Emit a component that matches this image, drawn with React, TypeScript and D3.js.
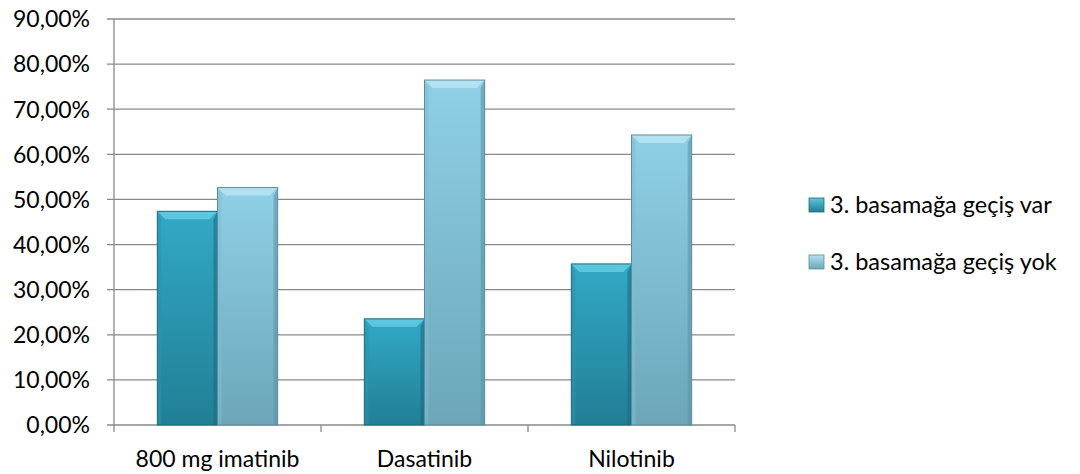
import React from "react";
import * as d3 from "d3";

const categories = ["800 mg imatinib", "Dasatinib", "Nilotinib"];
const seriesNames = ["3. basamağa geçiş var", "3. basamağa geçiş yok"];
const seriesVar = [47.37, 23.53, 35.71];
const seriesYok = [52.63, 76.47, 64.29];
const yTicks = [0, 10, 20, 30, 40, 50, 60, 70, 80, 90];

const W = 1080;
const H = 474;
const plot = { left: 114, right: 735, top: 19, bottom: 425 };

const palettes = [
  { top: "#32a9c6", bottom: "#217f95", bevel: "#5cc6de", edgeL: "#2a93ad", edgeR: "#1a6d80", stroke: "#1c6a7c" },
  { top: "#8fd0e6", bottom: "#6ca6b8", bevel: "#b2e2f2", edgeL: "#80bcd0", edgeR: "#5f95a6", stroke: "#5d8d9c" },
];

export default function App() {
  const x0 = d3.scaleBand<string>().domain(categories).range([plot.left, plot.right]).paddingInner(0).paddingOuter(0);
  const x1 = d3.scaleBand<number>().domain([0, 1]).range([0, x0.bandwidth()]).paddingOuter(0.72).paddingInner(0);
  const y = d3.scaleLinear().domain([0, 90]).range([plot.bottom, plot.top]);
  const fmt = (v: number) => d3.format(".2f")(v).replace(".", ",") + "%";
  const series = [seriesVar, seriesYok];
  const font = "Lato, 'Open Sans', sans-serif";
  const axisColor = "#898989";

  const bar = (s: number, i: number, v: number) => {
    const p = palettes[s];
    const bx = (x0(categories[i]) ?? 0) + (x1(s) ?? 0);
    const bw = x1.bandwidth();
    const by = y(v);
    const bh = plot.bottom - by;
    const b = 8;
    const e = 4;
    return (
      <g key={`${s}-${i}`}>
        <rect x={bx} y={by} width={bw} height={bh} fill={`url(#grad${s})`} />
        <polygon points={`${bx},${by} ${bx + e},${by + b} ${bx + e},${plot.bottom} ${bx},${plot.bottom}`} fill={p.edgeL} opacity={0.55} />
        <polygon points={`${bx + bw},${by} ${bx + bw - e},${by + b} ${bx + bw - e},${plot.bottom} ${bx + bw},${plot.bottom}`} fill={p.edgeR} opacity={0.6} />
        <polygon points={`${bx},${by} ${bx + bw},${by} ${bx + bw - b},${by + b} ${bx + b},${by + b}`} fill={p.bevel} />
        <rect x={bx} y={by} width={bw} height={bh} fill="none" stroke={p.stroke} strokeWidth={1} />
      </g>
    );
  };

  return (
    <svg width={W} height={H} style={{ position: "absolute", left: 0, top: 0, background: "#fff" }}>
      <defs>
        {palettes.map((p, s) => (
          <linearGradient key={s} id={`grad${s}`} x1="0" y1="0" x2="0" y2="1">
            <stop offset="0" stopColor={p.top} />
            <stop offset="1" stopColor={p.bottom} />
          </linearGradient>
        ))}
        {palettes.map((p, s) => (
          <linearGradient key={`l${s}`} id={`leg${s}`} x1="0" y1="0" x2="0" y2="1">
            <stop offset="0" stopColor={p.bevel} />
            <stop offset="1" stopColor={p.bottom} />
          </linearGradient>
        ))}
      </defs>

      {/* gridlines and y axis labels */}
      {yTicks.map((t) => (
        <g key={t}>
          <line x1={plot.left - 7} x2={plot.right} y1={y(t)} y2={y(t)} stroke={axisColor} strokeWidth={1.3} />
          <text x={90} y={y(t)} dy="0.36em" textAnchor="end" fontFamily={font} fontSize={23} fill="#000">
            {fmt(t)}
          </text>
        </g>
      ))}
      <line x1={plot.left} x2={plot.left} y1={plot.top} y2={plot.bottom} stroke={axisColor} strokeWidth={1.3} />
      {[...categories.map((c) => x0(c) ?? 0), plot.right].map((tx, i) => (
        <line key={i} x1={tx} x2={tx} y1={plot.bottom} y2={plot.bottom + 7} stroke={axisColor} strokeWidth={1.3} />
      ))}

      {series.map((vals, s) => vals.map((v, i) => bar(s, i, v)))}

      {categories.map((c) => (
        <text key={c} x={(x0(c) ?? 0) + x0.bandwidth() / 2} y={467} textAnchor="middle" fontFamily={font} fontSize={23} fill="#000">
          {c}
        </text>
      ))}

      {seriesNames.map((n, s) => {
        const ly = 205 + s * 57;
        return (
          <g key={n}>
            <rect x={809} y={ly - 7} width={15} height={14} fill={`url(#leg${s})`} stroke={palettes[s].stroke} strokeWidth={0.8} />
            <text x={830} y={ly} dy="0.36em" fontFamily={font} fontSize={23.5} fill="#000">
              {n}
            </text>
          </g>
        );
      })}
    </svg>
  );
}
